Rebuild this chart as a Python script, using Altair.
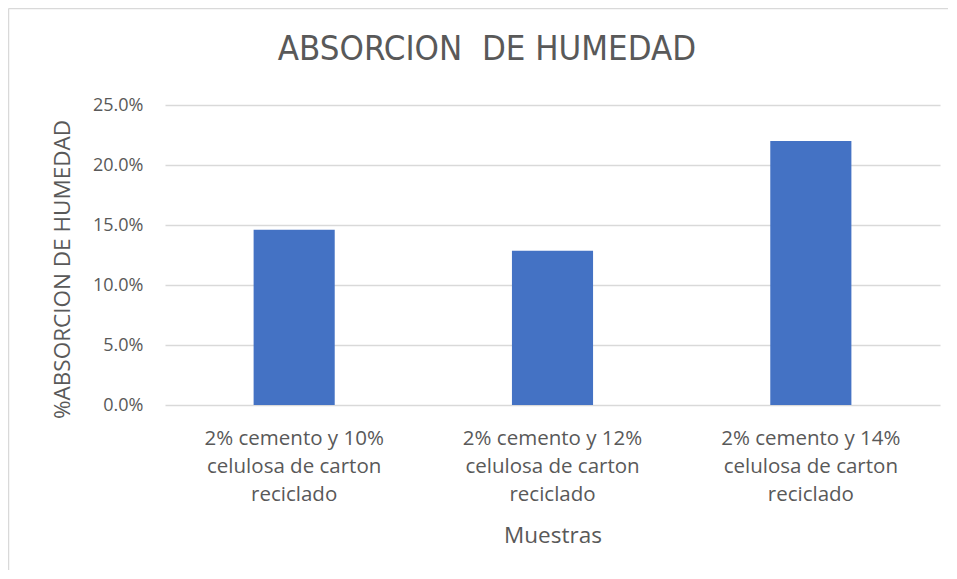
import altair as alt
import pandas as pd

categories = [
    "2% cemento y 10%|celulosa de carton|reciclado",
    "2% cemento y 12%|celulosa de carton|reciclado",
    "2% cemento y 14%|celulosa de carton|reciclado",
]
values = [0.146, 0.1285, 0.220]
y_ticks = [0.0, 0.05, 0.10, 0.15, 0.20, 0.25]
title_text = ["ABSORCION\u00a0 DE HUMEDAD"]

df = pd.DataFrame({"Muestra": categories, "Absorcion": values})

W, H = 775, 300
LABEL = "#595959"
FONT = "Open Sans"

bars = alt.Chart(df).mark_bar(color="#4472c4", width=alt.RelativeBandSize(0.314)).encode(
    x=alt.X(
        "Muestra:N",
        sort=categories,
        scale=alt.Scale(paddingInner=0, paddingOuter=0),
        axis=alt.Axis(
            title="Muestras",
            labelAngle=0,
            labelExpr="split(datum.label, '|')",
            labelLineHeight=28,
            labelFontSize=20.5,
            labelPadding=23,
            labelBaseline="top",
            labelColor=LABEL,
            labelFont=FONT,
            ticks=False,
            domain=False,
            grid=False,
            titleFontSize=22.5,
            titleFont=FONT,
            titleFontWeight="normal",
            titleColor=LABEL,
            titlePadding=20,
        ),
    ),
    y=alt.Y(
        "Absorcion:Q",
        scale=alt.Scale(domain=[0, 0.25], nice=False),
        axis=alt.Axis(
            title="%ABSORCION DE HUMEDAD",
            values=y_ticks,
            format=".1%",
            labelFontSize=18,
            labelColor=LABEL,
            labelFont=FONT,
            labelPadding=22,
            ticks=False,
            domain=False,
            gridColor="#d9d9d9",
            gridWidth=1.3,
            titleFontSize=22.5,
            titleFont=FONT,
            titleFontWeight="normal",
            titleColor=LABEL,
            titlePadding=18,
            titleY=H / 2 + 14,
        ),
    ),
)

border_src = pd.DataFrame({"a": [0]})
border_left = alt.Chart(border_src).mark_rule(
    color="#d9d9d9", strokeWidth=1.5, clip=False
).encode(
    x=alt.value(-157 + 0.5),
    y=alt.value(-97 + 0.5),
    y2=alt.value(H + 170),
)
border_top = alt.Chart(border_src).mark_rule(
    color="#d9d9d9", strokeWidth=1.5, clip=False
).encode(
    x=alt.value(-157 + 0.5),
    x2=alt.value(W + 20),
    y=alt.value(-97 + 0.5),
)

title = alt.Chart(pd.DataFrame({"t": title_text})).mark_text(
    fontSize=34.5,
    font="Liberation Sans Narrow, DejaVu Sans Condensed, sans-serif",
    color=LABEL,
    align="center",
    baseline="middle",
    clip=False,
).encode(
    text="t:N",
    x=alt.value(487 - 165),
    y=alt.value(50 - 105),
)

chart = alt.layer(border_left, border_top, bars, title).properties(
    width=W,
    height=H,
    autosize=alt.AutoSizeParams(type="none"),
    padding={"left": 157, "top": 97, "right": 8, "bottom": 165},
).configure_view(stroke=None)

chart.save("out.html", embed_options={"renderer": "svg", "actions": False})
